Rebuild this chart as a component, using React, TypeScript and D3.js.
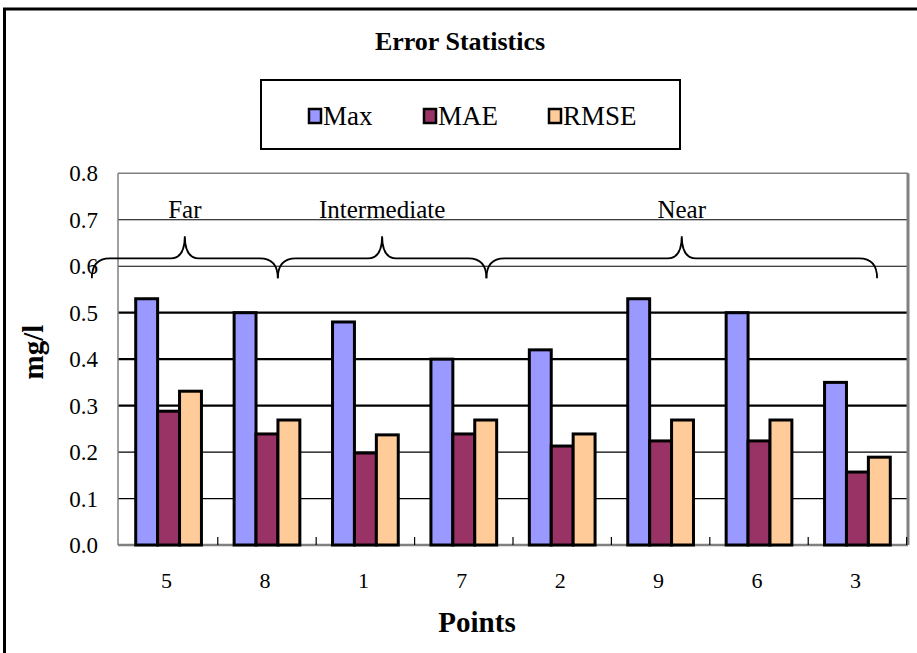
import React from "react";
import * as d3 from "d3";

const categories = ["5", "8", "1", "7", "2", "9", "6", "3"];
const seriesNames = ["Max", "MAE", "RMSE"];
const maxValues = [0.53, 0.5, 0.48, 0.4, 0.42, 0.53, 0.5, 0.35];
const maeValues = [0.288, 0.239, 0.198, 0.239, 0.213, 0.224, 0.224, 0.157];
const rmseValues = [0.331, 0.269, 0.237, 0.269, 0.239, 0.269, 0.269, 0.189];
const seriesColors = ["#9999FF", "#993366", "#FFCC99"];
const yTicks = [0, 0.1, 0.2, 0.3, 0.4, 0.5, 0.6, 0.7, 0.8];
// braces: group name, start and end in category-index units
const braceNames = ["Far", "Intermediate", "Near"];
const braceStarts = [-0.78, 1.11, 3.23];
const braceEnds = [1.11, 3.23, 7.2];
const braceLevel = 0.617;

const W = 917;
const H = 653;
const left = 118;
const right = 908;
const top = 173.3;
const bottom = 545;

export default function App() {
  const serif = "'Liberation Serif', 'Times New Roman', serif";
  const values = [maxValues, maeValues, rmseValues];
  const x0 = d3
    .scaleBand<string>()
    .domain(categories)
    .range([left, right])
    .paddingInner(0.332)
    .paddingOuter(0.18);
  const x1 = d3.scaleBand<string>().domain(seriesNames).range([0, x0.bandwidth()]);
  const y = d3.scaleLinear().domain([0, 0.8]).range([bottom, top]);
  const step = x0.step();
  const c0 = (x0(categories[0]) as number) + x0.bandwidth() / 2;
  const xIdx = d3.scaleLinear().domain([0, 1]).range([c0, c0 + step]);

  const boundaries = categories.map(
    (c) => (x0(c) as number) + x0.bandwidth() + (step * x0.paddingInner()) / 2
  );

  const bracePath = (a: number, b: number) => {
    const xa = xIdx(a);
    const xb = xIdx(b);
    const xm = (xa + xb) / 2;
    const y0 = y(braceLevel);
    const drop = 20;
    const rise = 22;
    const r = 18;
    const rp = 14;
    return [
      `M${xa},${y0 + drop}`,
      `Q${xa},${y0} ${xa + r},${y0}`,
      `L${xm - rp},${y0}`,
      `Q${xm},${y0} ${xm},${y0 - rise}`,
      `Q${xm},${y0} ${xm + rp},${y0}`,
      `L${xb - r},${y0}`,
      `Q${xb},${y0} ${xb},${y0 + drop}`,
    ].join(" ");
  };

  const legendX = [308, 423, 548];

  return (
    <svg
      width={W}
      height={H}
      style={{ position: "absolute", left: 0, top: 0, background: "#fff" }}
      fontFamily={serif}
    >
      <rect x={0} y={0} width={W} height={H} fill="#fff" />
      {/* outer frame */}
      <rect x={4.5} y={9} width={W + 20} height={H + 20} fill="none" stroke="#000" strokeWidth={3} />

      {/* title */}
      <text x={460} y={50} textAnchor="middle" fontSize={26} fontWeight="bold">
        Error Statistics
      </text>

      {/* legend */}
      <rect x={261} y={80} width={419} height={69} fill="#fff" stroke="#000" strokeWidth={2} />
      {seriesNames.map((s, i) => (
        <g key={s}>
          <rect
            x={legendX[i] + 1}
            y={109}
            width={12}
            height={14}
            fill={seriesColors[i]}
            stroke="#000"
            strokeWidth={2.5}
          />
          <text x={legendX[i] + 15} y={125} fontSize={27}>
            {s}
          </text>
        </g>
      ))}

      {/* gridlines */}
      {yTicks
        .filter((t) => t > 0 && t < 0.8)
        .map((t) => (
          <line
            key={t}
            x1={left}
            x2={right}
            y1={y(t)}
            y2={y(t)}
            stroke="#000"
            strokeWidth={t >= 0.25 && t <= 0.55 ? 2.2 : 1.2}
          />
        ))}
      {/* plot frame */}
      <line x1={left} x2={right} y1={top} y2={top} stroke="#808080" strokeWidth={1.5} />
      <line x1={left} x2={left} y1={top} y2={bottom} stroke="#808080" strokeWidth={1.5} />
      <line x1={right} x2={right} y1={top} y2={bottom} stroke="#808080" strokeWidth={3} />
      <line x1={left} x2={right} y1={bottom} y2={bottom} stroke="#808080" strokeWidth={2.5} />
      {/* x ticks */}
      {boundaries.map((b, i) => (
        <line key={i} x1={b} x2={b} y1={bottom} y2={bottom - 8} stroke="#000" strokeWidth={1.2} />
      ))}

      {/* bars */}
      {categories.map((c, ci) => (
        <g key={c} transform={`translate(${x0(c)},0)`}>
          {seriesNames.map((s, si) => (
            <rect
              key={s}
              x={x1(s) as number}
              y={y(values[si][ci])}
              width={x1.bandwidth()}
              height={bottom - y(values[si][ci])}
              fill={seriesColors[si]}
              stroke="#000"
              strokeWidth={3}
            />
          ))}
        </g>
      ))}

      {/* y tick labels */}
      {yTicks.map((t) => (
        <text key={t} x={98} y={y(t) + 8} textAnchor="end" fontSize={23}>
          {t.toFixed(1)}
        </text>
      ))}

      {/* braces */}
      {braceNames.map((n, i) => (
        <g key={n}>
          <path d={bracePath(braceStarts[i], braceEnds[i])} fill="none" stroke="#000" strokeWidth={1.8} />
          <text
            x={(xIdx(braceStarts[i]) + xIdx(braceEnds[i])) / 2}
            y={y(braceLevel) - 40}
            textAnchor="middle"
            fontSize={25}
          >
            {n}
          </text>
        </g>
      ))}

      {/* x labels */}
      {categories.map((c) => (
        <text
          key={c}
          x={(x0(c) as number) + x0.bandwidth() / 2 - 2}
          y={588}
          textAnchor="middle"
          fontSize={22}
        >
          {c}
        </text>
      ))}

      <text x={477} y={632} textAnchor="middle" fontSize={29} fontWeight="bold">
        Points
      </text>
      <text
        transform={`translate(43,352) rotate(-90)`}
        textAnchor="middle"
        fontSize={29}
        fontWeight="bold"
      >
        mg/l
      </text>
    </svg>
  );
}
